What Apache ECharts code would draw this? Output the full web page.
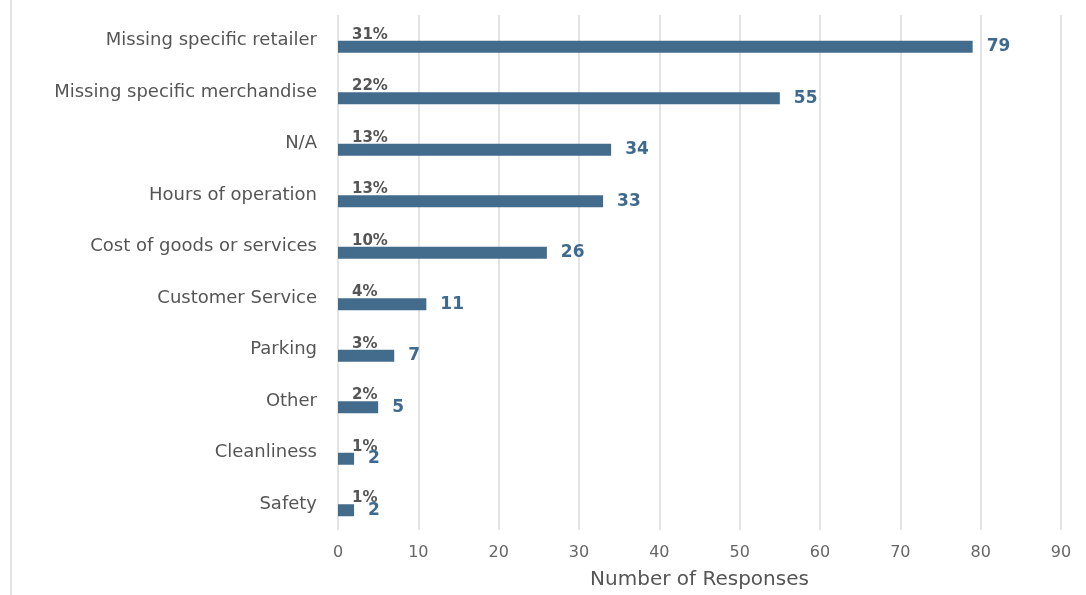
<!DOCTYPE html>
<html>
<head>
<meta charset="utf-8">
<script src="https://cdn.jsdelivr.net/npm/echarts@6/dist/echarts.min.js"></script>
<style>
  html, body { margin: 0; padding: 0; background: #fff; }
  #chart { width: 1086px; height: 595px; }
</style>
</head>
<body>
<div id="chart"></div>
<script>
  // reasons, top to bottom
  const categories = ['Missing specific retailer', 'Missing specific merchandise', 'N/A', 'Hours of operation',
    'Cost of goods or services', 'Customer Service', 'Parking', 'Other', 'Cleanliness', 'Safety'];
  const responses = [79, 55, 34, 33, 26, 11, 7, 5, 2, 2];
  const shares = ['31%', '22%', '13%', '13%', '10%', '4%', '3%', '2%', '1%', '1%'];
  const xTicks = [0, 10, 20, 30, 40, 50, 60, 70, 80, 90];

  const barColor = '#436b8c';
  const font = 'DejaVu Sans';

  const chart = echarts.init(document.getElementById('chart'));
  chart.setOption({
    animation: false,
    textStyle: { fontFamily: font },
    graphic: [{
      type: 'line',
      shape: { x1: 11, y1: 0, x2: 11, y2: 595 },
      style: { stroke: '#e2e2e2', lineWidth: 2 }
    }],
    grid: { left: 338, right: 25, top: 15, bottom: 65 },
    xAxis: {
      type: 'value',
      min: xTicks[0],
      max: xTicks[xTicks.length - 1],
      interval: 10,
      name: 'Number of Responses',
      nameLocation: 'middle',
      nameGap: 40,
      nameTextStyle: { color: '#555', fontSize: 20, fontFamily: font },
      axisLine: { show: false },
      axisTick: { show: false },
      axisLabel: { color: '#666', fontSize: 16, margin: 15, fontFamily: font },
      splitLine: { lineStyle: { color: '#e4e4e4', width: 2 } }
    },
    yAxis: {
      type: 'category',
      inverse: true,
      data: categories,
      axisLine: { show: false },
      axisTick: { show: false },
      axisLabel: { color: '#555', fontSize: 18, margin: 21, fontFamily: font, padding: [0, 0, 12, 0] }
    },
    series: [{
      // percent labels sit in an invisible bar above the real one
      name: 'share',
      type: 'bar',
      silent: true,
      barWidth: 12,
      barGap: '0%',
      data: responses,
      itemStyle: { color: 'rgba(0,0,0,0)' },
      label: {
        show: true,
        position: 'insideLeft',
        distance: 14,
        color: '#555',
        fontSize: 15,
        fontWeight: 'bold',
        fontFamily: font,
        formatter: p => shares[p.dataIndex]
      }
    }, {
      name: 'Responses',
      type: 'bar',
      barWidth: 12,
      barGap: '0%',
      data: responses,
      itemStyle: { color: barColor },
      label: {
        show: true,
        position: 'right',
        distance: 14,
        color: '#3d6a8e',
        fontSize: 17,
        fontWeight: 'bold',
        fontFamily: font
      }
    }]
  });
</script>
</body>
</html>
